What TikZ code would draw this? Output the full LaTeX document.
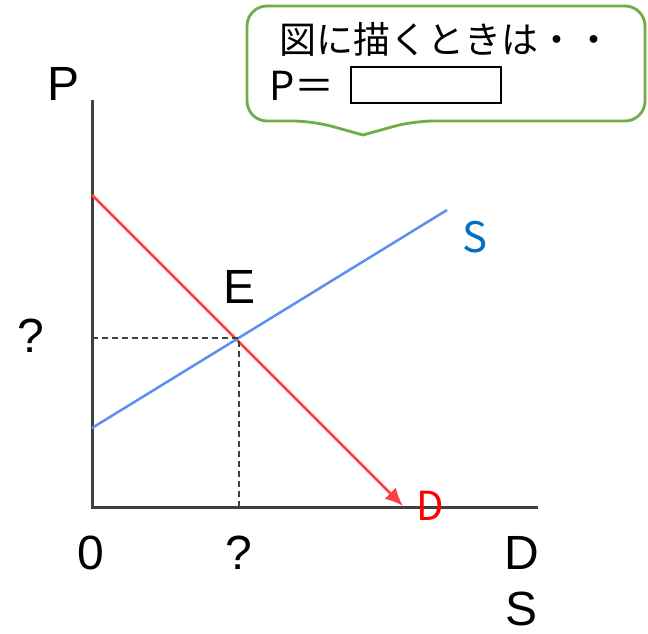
\documentclass[tikz,border=0pt]{standalone}
\usepackage{fontspec}
\setmainfont{Liberation Sans}
\newfontfamily\jpfont{Noto Sans CJK JP}
\usetikzlibrary{arrows.meta,positioning}
\definecolor{axisgray}{HTML}{404040}
\definecolor{demand}{HTML}{FF4040}
\definecolor{supply}{HTML}{5B8FF0}
\definecolor{sblue}{HTML}{0070C0}
\definecolor{dred}{HTML}{FF0000}
\definecolor{bubblegreen}{HTML}{70AD47}
\tikzset{
  axis/.style={draw=axisgray, line width=3pt},
  curvelabel/.style={font=\fontsize{48}{50}\selectfont, text=black, inner sep=0pt},
  demandline/.style={draw=demand, line width=2.5pt, -{Latex[length=18pt,width=16pt]}},
  supplyline/.style={draw=supply, line width=2.5pt},
  guide/.style={draw=axisgray, line width=1.6pt, dash pattern=on 6pt off 4pt},
  bubble/.style={draw=bubblegreen, line width=2.8pt, fill=white, line cap=round, line join=round},
  jptext/.style={font=\jpfont\fontsize{37}{40}\selectfont, inner sep=0pt},
  answerbox/.style={draw=black, line width=2.2pt, minimum width=150pt, minimum height=36pt, inner sep=0pt},
}
\begin{document}
\begin{tikzpicture}[x=1pt,y=-1pt]
\useasboundingbox (0,0) rectangle (648,633);
% axes
\coordinate (O) at (92,507);
\coordinate (ytop) at (92,100);
\coordinate (xend) at (538,507);
\draw[axis] (ytop) -- (O) -- (xend);
% demand and supply
\coordinate (dstart) at (92,195);
\coordinate (dend) at (403,506);
\coordinate (sstart) at (92,428);
\coordinate (send) at (447,210);
\draw[demandline] (dstart) -- (dend);
\draw[supplyline] (sstart) -- (send);
% equilibrium
\coordinate (E) at (239,338);
\coordinate (Ey) at (92,338);
\coordinate (Ex) at (239,507);
\draw[guide] (Ey) -- (E) -- (Ex);
% labels
\node[curvelabel] (lP) at (64,84) {P};
\node[curvelabel] (lE) at (240,287) {E};
\node[curvelabel] (lq1) at (31,336) {?};
\node[curvelabel] (l0) at (91,553) {0};
\node[curvelabel] (lq2) at (239,553) {?};
\node[curvelabel] (lD) at (522,553) {D};
\node[curvelabel] (lS) at (522,609) {S};
\node[jptext, text=sblue, font=\jpfont\fontsize{42}{44}\selectfont] (lsup) at (475,237) {S};
\node[jptext, text=dred, font=\jpfont\fontsize{40}{42}\selectfont] (ldem) at (430,506) {D};
% speech bubble
\draw[bubble] (363,135) [rounded corners=20pt] -- (413,121) -- (645,121) -- (645,6) -- (247,6) -- (247,121) -- (313,121) -- (363,135);
\node[jptext, anchor=west] (hint) at (279,39) {図に描くときは・・};
\node[jptext, anchor=west, font=\jpfont\fontsize{40}{42}\selectfont] (peq) at (269,86) {P＝};
\node[answerbox] (blank) at (426,85) {};
\end{tikzpicture}
\end{document}
